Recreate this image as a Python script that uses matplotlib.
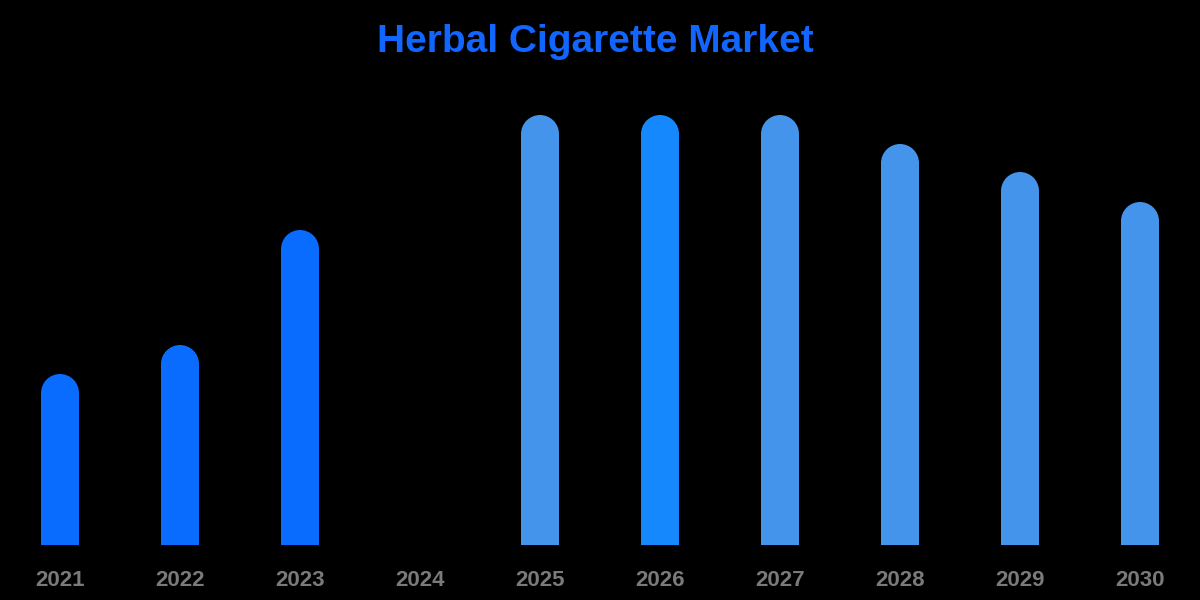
import matplotlib
matplotlib.use("Agg")
import matplotlib.pyplot as plt
from matplotlib.patches import Rectangle, Ellipse

years = ["2021", "2022", "2023", "2024", "2025", "2026", "2027", "2028", "2029", "2030"]
values = [1.71, 2.00, 3.15, 0.0, 4.30, 4.30, 4.30, 4.01, 3.73, 3.43]
bar_colors = ["#0a6cff", "#0a6cff", "#0a6cff", "#0a6cff", "#4394ea",
              "#1688fe", "#4394ea", "#4394ea", "#4394ea", "#4394ea"]
title = "Herbal Cigarette Market"

plt.rcParams['font.family'] = ['Liberation Sans', 'DejaVu Sans']

fig = plt.figure(figsize=(12, 6), dpi=100, facecolor="black")
ax = fig.add_axes([0.0, 55 / 600, 1.0, 445 / 600], facecolor="black")
ax.set_xlim(-0.5, len(years) - 0.5)
ax.set_ylim(0, 4.45)

fig.canvas.draw()
# bar width ~38 px, convert to data units
px_per_x = ax.transData.transform((1, 0))[0] - ax.transData.transform((0, 0))[0]
px_per_y = ax.transData.transform((0, 1))[1] - ax.transData.transform((0, 0))[1]
bar_w = 38 / px_per_x
r_x = bar_w / 2
r_y = 19 / px_per_y

for i, (v, c) in enumerate(zip(values, bar_colors)):
    if v <= 0:
        continue
    ax.add_patch(Rectangle((i - r_x, 0), bar_w, v - r_y, facecolor=c, edgecolor="none"))
    ax.add_patch(Ellipse((i, v - r_y), bar_w, 2 * r_y, facecolor=c, edgecolor="none"))

ax.set_xticks(range(len(years)))
ax.set_xticklabels(years, color="#7a7a7a", fontsize=16, fontweight="bold")
ax.tick_params(axis="x", length=0, pad=18)
ax.set_yticks([])
for s in ax.spines.values():
    s.set_visible(False)

fig.text(0.496, 1 - 42 / 600, title, ha="center", va="center",
         color="#1166ff", fontsize=28, fontweight="bold")

fig.savefig("out.png", dpi=100, facecolor="black")
